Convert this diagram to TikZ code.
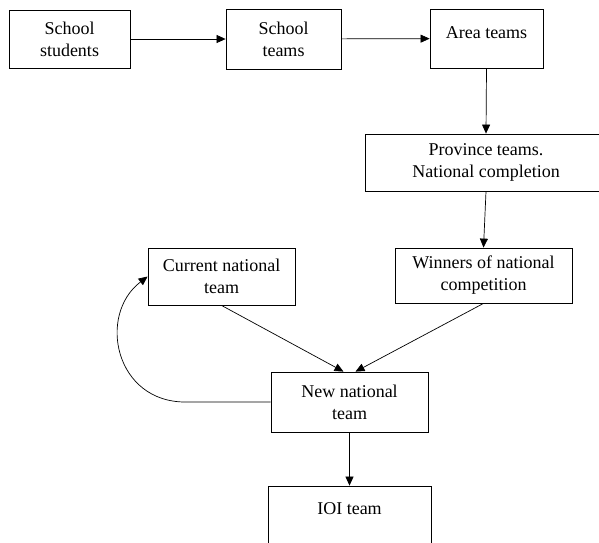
\documentclass[tikz,border=0pt]{standalone}
\usepackage{fontspec}
\setmainfont{Liberation Serif}
\usetikzlibrary{arrows.meta, positioning}
\tikzset{
  every picture/.style={x=1pt, y=-1pt, line width=0.8pt, font=\fontsize{18}{22}\selectfont},
  box/.style={draw=black, align=center, inner sep=2pt},
  arrow/.style={-{Triangle[length=9pt, width=8pt]}, draw=black, line width=0.7pt},
}

\begin{document}
\begin{tikzpicture}
  \useasboundingbox (0,0) rectangle (599,542);
  \clip (0,0) rectangle (599,542);
  % top row
  \node[box, minimum width=121pt, minimum height=58pt] (students) at (69.5,39) {School\\students};
  \node[box, minimum width=115pt, minimum height=60pt] (schoolteams) at (283.5,39) {School\\teams};
  \node[box, minimum width=113pt, minimum height=59pt, text depth=12pt] (area) at (486.5,38.5) {Area teams};
  \draw[arrow] (students) -- (schoolteams); \draw[arrow] (schoolteams) -- (area);
  % down the right side
  \node[box, minimum width=242pt, minimum height=57pt] (province) at (486,162.5) {Province teams.\\National completion};
  \node[box, minimum width=177pt, minimum height=55pt] (winners) at (483.5,275.5) {Winners of national\\competition};
  \draw[arrow] (area.south) -- (province.north);
  \draw[arrow] (province.south) -- (winners.north);
  % national team
  \node[box, minimum width=147pt, minimum height=57pt] (current) at (221.5,276.5) {Current national\\team};
  \node[box, minimum width=157pt, minimum height=60pt] (newteam) at (349.5,402) {New national\\team};
  \node[box, minimum width=163pt, minimum height=70pt, text depth=24pt] (ioi) at (349.5,521) {IOI team};
  \draw[arrow] (current.south) -- ([xshift=-6pt]newteam.north);
  \draw[arrow] (winners.south) -- ([xshift=6pt]newteam.north);
  \draw[arrow] (newteam.west) -- ++(-84,0) .. controls (115,403) and (97,315) .. (current.west);
  \draw[arrow] (newteam.south) -- (ioi.north);
\end{tikzpicture}
\end{document}
